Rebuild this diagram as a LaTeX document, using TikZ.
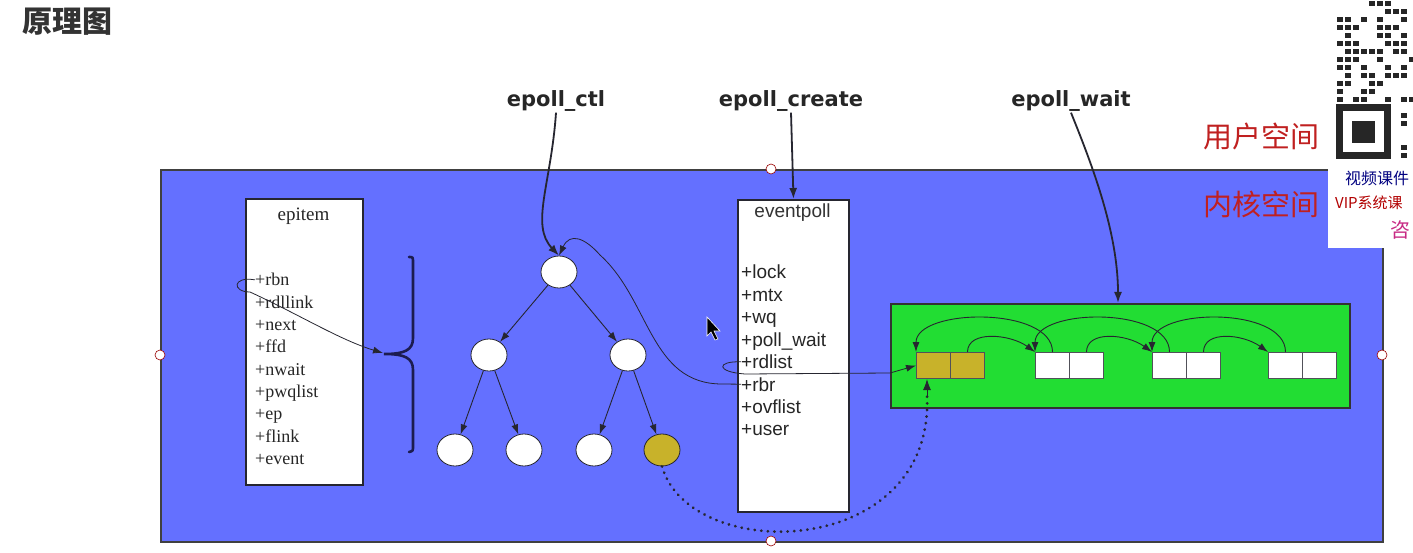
\documentclass[tikz,border=0pt]{standalone}
\usepackage{fontspec}
\usetikzlibrary{arrows.meta,shapes.geometric}
\newfontfamily\cjk{Noto Sans CJK SC}
\newfontfamily\labf{DejaVu Sans}
\newfontfamily\sansf{Liberation Sans}
\newfontfamily\seriff{Liberation Serif}
\definecolor{kblue}{HTML}{6470FF}
\definecolor{kgreen}{HTML}{22DD33}
\definecolor{kyellow}{HTML}{C8B22A}
\definecolor{kline}{HTML}{262630}
\definecolor{kred}{HTML}{C02020}
\definecolor{knavy}{HTML}{1C1C50}
\begin{document}
\begin{tikzpicture}[x=1pt,y=-1pt,
  arr/.style={-{Latex[length=11pt,width=8pt]}, kline, line width=1.2pt},
  thinarr/.style={-{Latex[length=10pt,width=7pt]}, kline, line width=0.9pt},
  box/.style={draw=kline, line width=2pt, fill=white, anchor=north west, inner sep=0},
  cell/.style={draw=kline!80, line width=1pt, minimum width=34pt, minimum height=26pt, inner sep=0, anchor=north west},
  tnode/.style={ellipse, draw=kline, line width=0.8pt, fill=white, minimum width=36pt, minimum height=32pt, inner sep=0},
  handle/.style={circle, draw=red!60!black, fill=white, line width=0.6pt, minimum size=10pt, inner sep=0},
  fld/.style={anchor=base west, inner sep=0, text=black!85},
  top/.style={font=\labf\bfseries\fontsize{21}{24}\selectfont, text=black!85, inner sep=1pt},
  red/.style={font=\cjk\fontsize{29}{32}\selectfont, text=kred, inner sep=0}
]
\clip (0,0) rectangle (1413,553);
\fill[white] (0,0) rectangle (1413,553);

% title
\node[font=\cjk\bfseries\fontsize{30}{32}\selectfont, text=black!80, anchor=west, inner sep=0] (title) at (22,22) {原理图};

% kernel area
\node[draw=black!75, line width=1.6pt, fill=kblue, minimum width=1222pt, minimum height=372pt, anchor=north west, inner sep=0] (kernel) at (160,169) {};

% QR overlay
\fill[white] (1328,0) rectangle (1413,248);
\pgfmathsetseed{23}
\foreach \i in {0,...,9}{\foreach \j in {0,...,12}{%
  \pgfmathtruncatemacro\qq{rnd>0.5}%
  \ifnum\qq=1 \fill[black!85] (1337+\i*8, 1+\j*8) rectangle +(5.5,5.5);\fi}}
\foreach \j in {13,...,19}{%
  \pgfmathtruncatemacro\qq{rnd>0.4}%
  \ifnum\qq=1 \fill[black!85] (1401, 1+\j*8) rectangle +(5.5,5.5);\fi}
\fill[black!85] (1336,104) rectangle (1391,159);
\fill[white] (1343,111) rectangle (1384,152);
\fill[black!85] (1352,121) rectangle (1375,143);
\node[font=\cjk\itshape\fontsize{16}{18}\selectfont, text=blue!50!black, anchor=west, inner sep=0] (qr1) at (1345,178) {视频课件};
\node[font=\cjk\fontsize{15}{18}\selectfont, text=red!70!black, anchor=west, inner sep=0] (qr2) at (1335,203) {VIP系统课};
\node[font=\cjk\fontsize{20}{22}\selectfont, text=magenta!80!black, anchor=west, inner sep=0] (qr3) at (1390,230) {咨};

% side labels
\node[red, anchor=west] (us) at (1203,136) {用户空间};
\node[red, anchor=west] (ks) at (1203,204) {内核空间};

% handles
\node[handle] (h1) at (771,169) {};
\node[handle] (h2) at (160,355) {};
\node[handle] (h3) at (1382,355) {};
\node[handle] (h4) at (771,541) {};

% epitem box
\node[box, minimum width=117pt, minimum height=286pt] (epitem) at (245,198) {};
\node[font=\seriff\fontsize{19}{20}\selectfont, text=black!85, inner sep=0] (epitemt) at (303.5,216) {epitem};
\foreach \t [count=\k from 0] in {rbn,rdllink,next,ffd,nwait,pwqlist,ep,flink,event}{
  \node[fld, font=\seriff\fontsize{18}{20}\selectfont] (ei\k) at (255,286+\k*22.3) {+\t};
}

% eventpoll box
\node[box, minimum width=111pt, minimum height=312pt] (evp) at (737,199) {};
\node[font=\sansf\fontsize{19}{22}\selectfont, text=black!80, inner sep=0] (evpt) at (792.5,213) {eventpoll};
\foreach \t [count=\k from 0] in {lock,mtx,wq,poll\_wait,rdlist,rbr,ovflist,user}{
  \node[fld, font=\sansf\fontsize{19}{22}\selectfont] (ev\k) at (741,279+\k*22.4) {+\t};
}

% brace
\draw[knavy, line width=2.6pt, line cap=round]
  (409,257) .. controls (413,257) .. (413,263) -- (413,338)
  .. controls (413,350) and (405,354) .. (384,354)
  .. controls (405,354) and (413,358) .. (413,370) -- (413,446)
  .. controls (413,451) .. (409,452);
\coordinate (bracetip) at (383,353);

% tree
\node[tnode] (r) at (559,272) {};
\node[tnode] (a) at (489,355) {};
\node[tnode] (b) at (628,355) {};
\node[tnode] (c1) at (455,450) {};
\node[tnode] (c2) at (524,450) {};
\node[tnode] (c3) at (594,450) {};
\node[tnode, fill=kyellow] (c4) at (662,450) {};
\draw[thinarr] (r) -- (a);
\draw[thinarr] (r) -- (b);
\draw[thinarr] (a) -- (c1);
\draw[thinarr] (a) -- (c2);
\draw[thinarr] (b) -- (c3);
\draw[thinarr] (b) -- (c4);

% green area
\node[draw=black!80, line width=2pt, fill=kgreen, minimum width=459pt, minimum height=104pt, anchor=north west, inner sep=0] (green) at (890,303) {};
\node[cell, fill=kyellow] (y1) at (916,352) {};
\node[cell, fill=kyellow] (y2) at (950,352) {};
\node[cell, fill=white] (p1) at (1035,352) {};
\node[cell, fill=white] (p2) at (1069,352) {};
\node[cell, fill=white] (q1) at (1152,352) {};
\node[cell, fill=white] (q2) at (1186,352) {};
\node[cell, fill=white] (s1) at (1268,352) {};
\node[cell, fill=white] (s2) at (1302,352) {};

% forward small arcs
\draw[thinarr] (y2.north) .. controls +(0,-22) and +(-25,-18) .. (p1.north west);
\draw[thinarr] (p2.north) .. controls +(0,-22) and +(-25,-18) .. (q1.north west);
\draw[thinarr] (q2.north) .. controls +(0,-22) and +(-25,-18) .. (s1.north west);
% backward big arcs
\draw[thinarr] (p1.north) .. controls +(0,-46) and +(0,-44) .. (y1.north west);
\draw[thinarr] (q1.north) .. controls +(0,-46) and +(0,-44) .. (p1.north west);
\draw[thinarr] (s1.north) .. controls +(0,-46) and +(0,-44) .. (q1.north west);

% top labels
\node[top] (ctl) at (556,101) {epoll\_ctl};
\node[top] (create) at (791,101) {epoll\_create};
\node[top] (wait) at (1071,101) {epoll\_wait};

\draw[arr, line width=1.8pt] (ctl.south) .. controls (551,185) and (530,225) .. (r.north);
\draw[arr, line width=1.8pt] (create.south) -- (evp.north);
\draw[arr, line width=1.8pt] (wait.south) .. controls (1090,160) and (1118,230) .. (green.north -| 1118,0);

% rbr -> root
\draw[thinarr, line width=0.8pt] (ev5.west) -- (722,384)
  .. controls (650,384) and (650,300) .. (600,255)
  .. controls (585,238) and (570,232) .. (r.north);

% rdlist -> first ready item
\draw[thinarr, line width=0.8pt] (ev4.west) .. controls (716,361) and (716,372) .. (745,374)
  -- (890,373) -- (y1.west);

% epitem rbn -> brace
\draw[thinarr, line width=0.8pt] (ei0.west) .. controls (232,276) and (232,292) .. (250,292)
  .. controls (300,315) and (340,340) .. (bracetip);

% dotted: yellow tree node -> first ready item
\draw[kline, line width=3pt, dash pattern=on 0.1pt off 6.5pt, line cap=round]
  (c4.south) .. controls (690,565) and (935,560) .. (927,395);
\draw[arr, line width=1pt] (927,396) -- (y1.south west -| 927,0);

% mouse cursor
\filldraw[fill=black, draw=white, line width=0.6pt] (707,317) -- (707,336) -- (711,332) -- (715,340) -- (718,339) -- (714,331) -- (720,331) -- cycle;
\end{tikzpicture}
\end{document}
